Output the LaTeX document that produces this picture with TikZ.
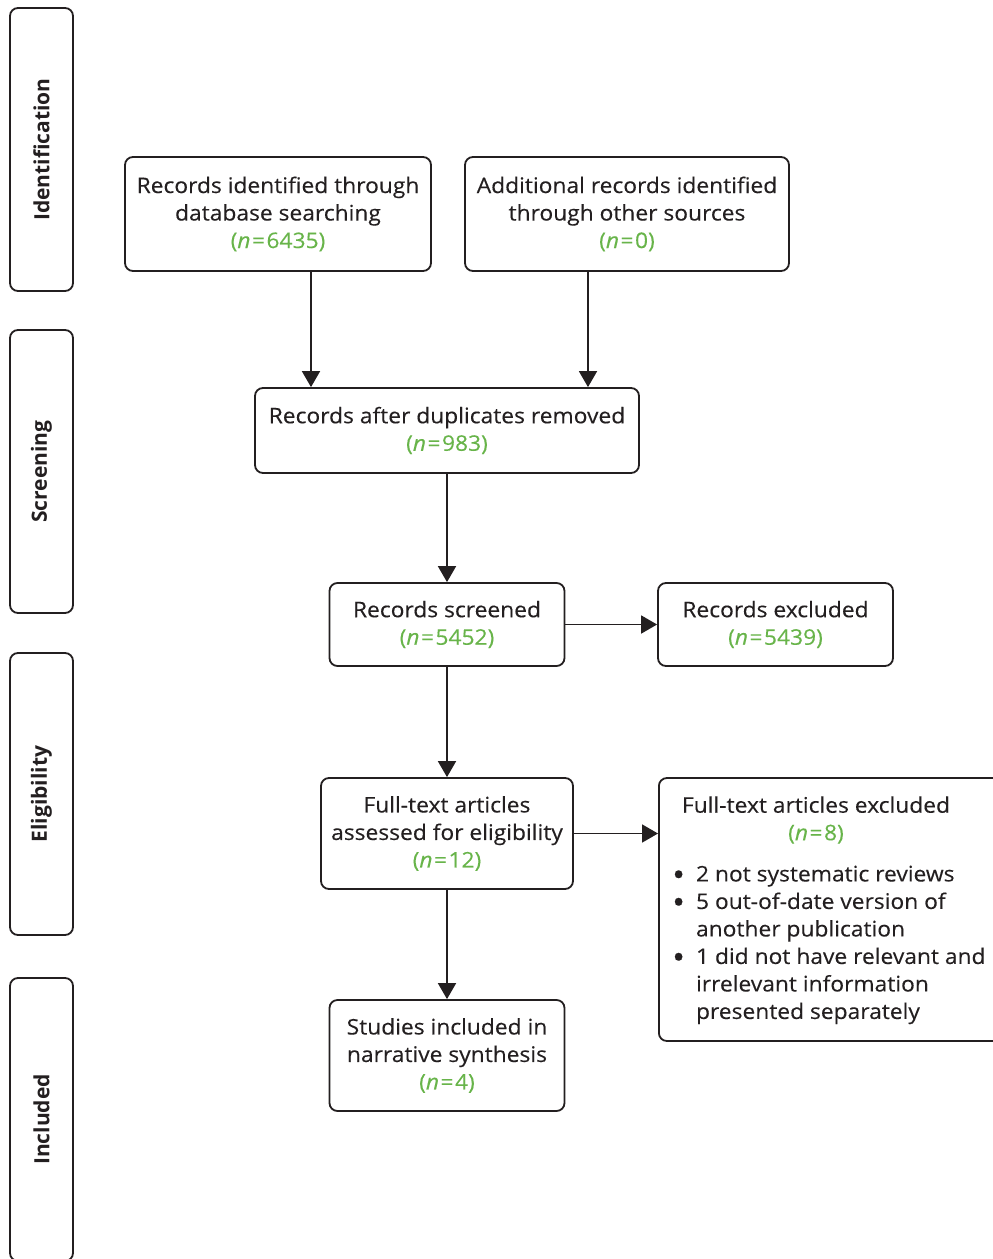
\documentclass[tikz,border=0pt]{standalone}
\usepackage{fontspec}
\usepackage{graphicx}
\setmainfont{Open Sans}[
  UprightFeatures={FakeStretch=1.06, FakeBold=0.25},
  ItalicFeatures={FakeStretch=1.06, FakeBold=0.25}]
\usetikzlibrary{arrows.meta}
\definecolor{ink}{HTML}{231F20}
\definecolor{countgreen}{RGB}{104,180,74}
\newcommand{\cnt}[1]{\textcolor{countgreen}{(\textit{n}\kern1.5pt=\kern1.5pt#1)}}
\newcommand{\itemdot}{\raisebox{-0.4ex}{\scalebox{1.5}{\textbullet}}}
\begin{document}
\begin{tikzpicture}[x=1pt,y=-1pt,
  every node/.style={font=\fontsize{21.5}{27.5}\selectfont, text=ink},
  box/.style={draw=ink, line width=1.8pt, rounded corners=8pt, align=center, inner sep=0pt},
  sidebox/.style={box, rotate=90, font=\fontsize{21}{27.5}\selectfont\bfseries},
  flow/.style={draw=ink, line width=1.8pt, -{Triangle[width=18pt,length=16pt]}}
]
\useasboundingbox (0,0) rectangle (993,1259);
\clip (0,0) rectangle (993,1259);

% stage labels down the left side
\node[sidebox, minimum width=283, minimum height=63] (sid) at (41.5,149.5) {Identification};
\node[sidebox, minimum width=283, minimum height=63] (sscr) at (41.5,471.5) {Screening};
\node[sidebox, minimum width=282, minimum height=63] (selig) at (41.5,794) {Eligibility};
\node[sidebox, minimum width=283, minimum height=63] (sincl) at (41.5,1119.5) {Included};

% flow boxes
\node[box, minimum width=306, minimum height=114] (db) at (278,214)
  {Records identified through\\database searching\\\cnt{6435}};
\node[box, minimum width=324, minimum height=114] (other) at (627,214)
  {Additional records identified\\through other sources\\\cnt{0}};
\node[box, minimum width=384, minimum height=85] (dedup) at (447,430.5)
  {Records after duplicates removed\\\cnt{983}};
\node[box, minimum width=235, minimum height=83] (screen) at (447,624.5)
  {Records screened\\\cnt{5452}};
\node[box, minimum width=235, minimum height=83] (excl) at (775.5,624.5)
  {Records excluded\\\cnt{5439}};
\node[box, minimum width=252, minimum height=111] (full) at (447,833.5)
  {Full-text articles\\assessed for eligibility\\\cnt{12}};
\node[box, minimum width=360, minimum height=263, anchor=west] (fullex) at (658,909.5) {};
\node[align=center, inner sep=0pt] (fullexhead) at (816,820)
  {Full-text articles excluded\\\cnt{8}};
\node[anchor=north west, inner sep=0pt, align=left] (reasons) at (672,862)
  {\begin{tabular}{@{}l@{\hspace{11pt}}l@{}}
   \itemdot & 2 not systematic reviews\\
   \itemdot & 5 out-of-date version of\\
            & another publication\\
   \itemdot & 1 did not have relevant and\\
            & irrelevant information\\
            & presented separately
   \end{tabular}};
\node[box, minimum width=235, minimum height=111] (incl) at (447,1055.5)
  {Studies included in\\narrative synthesis\\\cnt{4}};

% connectors
\draw[flow] ([xshift=33]db.south) -- ([xshift=33]db.south |- dedup.north);
\draw[flow] ([xshift=-39]other.south) -- ([xshift=-39]other.south |- dedup.north);
\draw[flow] (dedup) -- (screen);
\draw[flow] (screen) -- (excl);
\draw[flow] (screen) -- (full);
\draw[flow] (full.east) -- (full.east -| fullex.west);
\draw[flow] (full) -- (incl);
\end{tikzpicture}
\end{document}
